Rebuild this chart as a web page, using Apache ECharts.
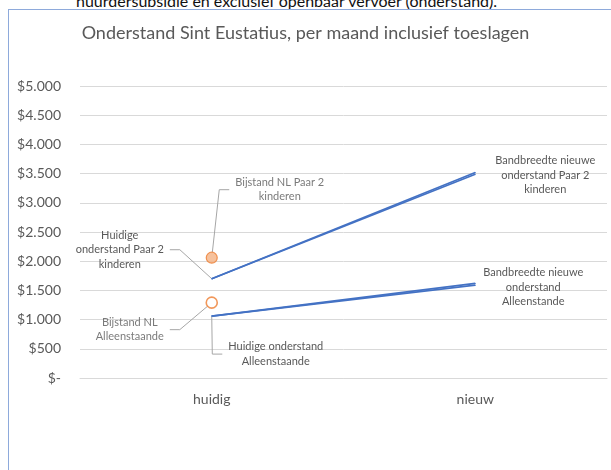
<!DOCTYPE html>
<html>
<head>
<meta charset="utf-8">
<script src="https://cdn.jsdelivr.net/npm/echarts@6/dist/echarts.min.js"></script>
<style>
body { margin: 0; background: #fff; overflow: hidden; }
#doc { position: absolute; left: 76px; top: -9px; font-family: Lato; font-size: 16px; color: #111; white-space: nowrap; }
#frame { position: absolute; left: 8px; top: 9px; width: 700px; height: 600px; border: 1px solid #8EAADB; }
#main { position: absolute; left: 0; top: 0; width: 611px; height: 470px; }
</style>
</head>
<body>
<div id="doc">huurdersubsidie en exclusief openbaar vervoer (onderstand).</div>
<div id="frame"></div>
<div id="main"></div>
<script>
var categories = ['huidig', 'nieuw'];
// bandbreedte: twee lijnen per groep
var paarHoog = [1700, 3520];
var paarLaag = [1700, 3490];
var alleenHoog = [1060, 1620];
var alleenLaag = [1060, 1590];
var bijstandPaar = [2060, null];
var bijstandAlleen = [1290, null];
var yMin = 0, yMax = 5000, yStep = 500;

var labelsPaar = ['Huidige\nonderstand Paar 2\nkinderen', 'Bandbreedte nieuwe\nonderstand Paar 2\nkinderen'];
var labelsAlleen = ['Huidige onderstand\nAlleenstaande', 'Bandbreedte nieuwe\nonderstand\nAlleenstande'];
var labelBijstandPaar = 'Bijstand NL Paar 2\nkinderen';
var labelBijstandAlleen = 'Bijstand NL\nAlleenstaande';

var BLUE = '#4472C4';
var GREY = '#595959';
var FONT = 'Lato';

// offsets of the callouts relative to their point
var offsPaar = [[-92, -29], [70, 3]];
var offsAlleen = [[64, 38], [58, 4]];

function labelItems(values, texts, offs, lines) {
	var out = [];
	for (var i = 0; i < values.length; i++) {
		out.push({
			value: values[i],
			label: { show: true, formatter: texts[i], offset: offs[i] },
			labelLine: { show: lines[i] }
		});
	}
	return out;
}

var labelBase = {
	position: 'inside',
	align: 'center',
	verticalAlign: 'middle',
	color: GREY,
	fontFamily: FONT,
	fontSize: 11,
	lineHeight: 14.5,
	padding: [2, 6]
};
var lineBase = { length2: 10, lineStyle: { color: '#A6A6A6', width: 1 } };

function bandLine(name, data) {
	return {
		name: name,
		type: 'line',
		data: data,
		symbol: 'circle',
		symbolSize: 1,
		showSymbol: true,
		itemStyle: { color: BLUE },
		lineStyle: { color: BLUE, width: 1.6 },
		label: labelBase,
		labelLine: lineBase,
		silent: true,
		z: 3
	};
}

var myChart = echarts.init(document.getElementById('main'));
var option = {
	animation: false,
	title: {
		text: 'Onderstand Sint Eustatius, per maand inclusief toeslagen',
		left: 'center',
		top: 19,
		textStyle: { color: GREY, fontFamily: FONT, fontSize: 18, fontWeight: 'normal' }
	},
	grid: { left: 80, right: 4, top: 86, bottom: 92 },
	xAxis: {
		type: 'category',
		data: categories,
		boundaryGap: true,
		axisLine: { lineStyle: { color: '#D9D9D9', width: 1 } },
		axisTick: { show: false },
		axisLabel: { color: GREY, fontFamily: FONT, fontSize: 14, margin: 14 }
	},
	yAxis: {
		type: 'value',
		min: yMin,
		max: yMax,
		interval: yStep,
		axisLine: { show: false },
		axisTick: { show: false },
		splitLine: { lineStyle: { color: '#D9D9D9', width: 1 } },
		axisLabel: {
			color: GREY, fontFamily: FONT, fontSize: 14, margin: 19,
			formatter: function(v) {
				if (v == 0) return '$-';
				return '$' + String(v).replace(/\B(?=(\d{3})+(?!\d))/g, '.');
			}
		}
	},
	series: [
		bandLine('Paar hoog', labelItems(paarHoog, labelsPaar, offsPaar, [true, false])),
		bandLine('Paar laag', paarLaag),
		bandLine('Alleen hoog', labelItems(alleenHoog, labelsAlleen, offsAlleen, [true, false])),
		bandLine('Alleen laag', alleenLaag),
		{
			name: 'Bijstand NL Paar 2 kinderen',
			type: 'scatter',
			data: [{ value: bijstandPaar[0], label: { show: true, formatter: labelBijstandPaar, offset: [68, -68] }, labelLine: { show: true } }, bijstandPaar[1]],
			symbolSize: 11,
			itemStyle: { color: '#F4B183', borderColor: '#ED7D31', borderWidth: 1.2 },
			label: labelBase,
			labelLine: lineBase,
			z: 4
		},
		{
			name: 'Bijstand NL Alleenstaande',
			type: 'scatter',
			data: [{ value: bijstandAlleen[0], label: { show: true, formatter: labelBijstandAlleen, offset: [-82, 27] }, labelLine: { show: true } }, bijstandAlleen[1]],
			symbolSize: 11,
			itemStyle: { color: '#FFFFFF', borderColor: '#ED7D31', borderWidth: 1.6 },
			label: labelBase,
			labelLine: lineBase,
			z: 4
		}
	]
};
myChart.setOption(option);
</script>
</body>
</html>
